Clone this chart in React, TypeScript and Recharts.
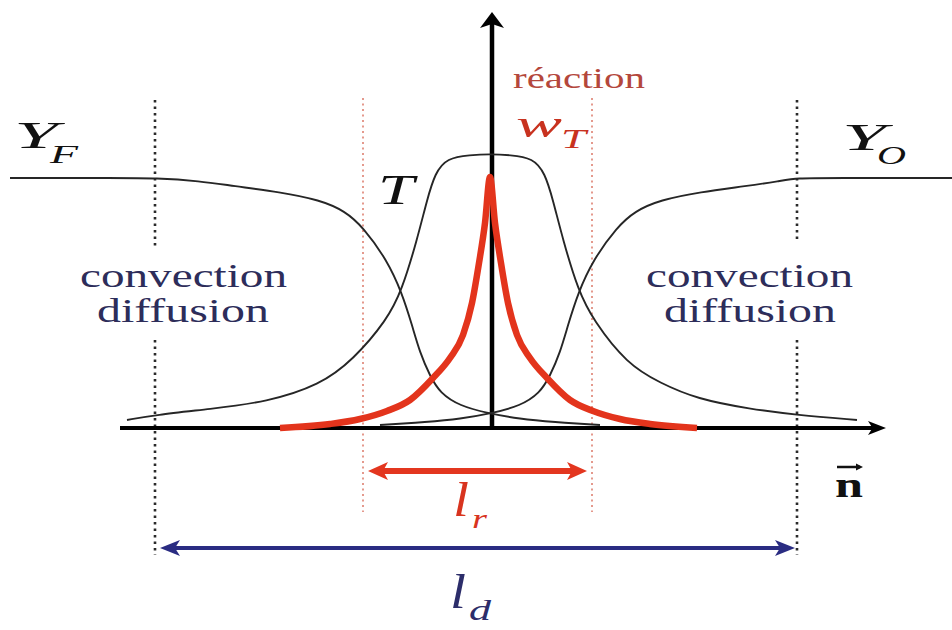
import React from 'react';
import { LineChart, Line, XAxis, YAxis, ReferenceLine, ReferenceDot } from 'recharts';

const W = 952;
const H = 630;
// screen row of the n axis; heights are measured upward from it
const AXIS_ROW = 428;
const h = (row: number) => AXIS_ROW - row;

// fuel mass fraction Y_F (left plateau, falls through the flame)
const FUEL_N = [10, 120, 155, 200, 233, 280, 320, 345, 363, 387, 402, 412, 420, 430, 440, 460, 487, 520, 553, 600];
const FUEL_Y = [250, 250, 250, 247, 242, 236, 228, 217, 201, 168, 135, 103, 75, 52, 35, 22, 15, 9, 6, 3];

// oxidiser mass fraction Y_O (rises to the right plateau)
const OXID_N = [380, 427, 460, 493, 520, 540, 550, 560, 568, 578, 593, 617, 635, 660, 700, 747, 780, 797, 830, 952];
const OXID_Y = [3, 6, 9, 15, 22, 35, 52, 75, 103, 135, 168, 201, 217, 228, 236, 242, 247, 250, 250, 250];

// temperature T
const TEMP_N = [127, 155, 210, 267, 320, 353, 387, 402, 417, 427, 435, 447, 470, 490, 510, 533, 545, 553, 563, 578, 593, 627, 660, 697, 750, 797, 857];
const TEMP_Y = [8, 13, 19, 26, 43, 68, 108, 138, 188, 228, 255, 270, 273, 274, 273, 270, 255, 228, 188, 138, 108, 64, 45, 29, 19, 13, 8];

// reaction rate w_T
const RATE_N = [280, 330, 360, 387, 410, 433, 450, 463, 472, 479, 485, 490, 495, 501, 508, 517, 530, 547, 570, 593, 620, 650, 697];
const RATE_Y = [0, 4, 9, 17, 28, 50, 70, 93, 125, 165, 205, 251, 205, 165, 125, 93, 70, 50, 28, 17, 9, 4, 0];

const toPoints = (ns: number[], ys: number[]) => ns.map((n, i) => ({ n, v: ys[i] }));

const fuel = toPoints(FUEL_N, FUEL_Y);
const oxid = toPoints(OXID_N, OXID_Y);
const temp = toPoints(TEMP_N, TEMP_Y);
const rate = toPoints(RATE_N, RATE_Y);

const SERIF = '"Liberation Serif", "Times New Roman", Times, serif';

// straight segment with a filled head at the end (and optionally at the start)
function arrow(color: string, width: number, head: number, half: number, both: boolean) {
  return (p: any) => {
    const { x1, y1, x2, y2 } = p;
    const len = Math.hypot(x2 - x1, y2 - y1) || 1;
    const ux = (x2 - x1) / len;
    const uy = (y2 - y1) / len;
    const px = -uy;
    const py = ux;
    const tri = (tx: number, ty: number, dx: number, dy: number) =>
      `${tx},${ty} ${tx - dx * head + px * half},${ty - dy * head + py * half} ${tx - dx * head * 0.75},${ty - dy * head * 0.75} ${tx - dx * head - px * half},${ty - dy * head - py * half}`;
    const sx = both ? x1 + ux * head * 0.7 : x1;
    const sy = both ? y1 + uy * head * 0.7 : y1;
    return (
      <g>
        <line
          x1={sx}
          y1={sy}
          x2={x2 - ux * head * 0.7}
          y2={y2 - uy * head * 0.7}
          stroke={color}
          strokeWidth={width}
        />
        <polygon points={tri(x2, y2, ux, uy)} fill={color} />
        {both && <polygon points={tri(x1, y1, -ux, -uy)} fill={color} />}
      </g>
    );
  };
}

type WordOpts = {
  text: string;
  size: number;
  width: number;
  color: string;
  italic?: boolean;
  bold?: boolean;
  sub?: string;
  subSize?: number;
  subWidth?: number;
  subDx?: number;
  subDy?: number;
};

// text anchored at its left baseline, stretched to the given width
function word(o: WordOpts) {
  return (p: any) => (
    <g>
      <text
        x={p.cx}
        y={p.cy}
        fontFamily={SERIF}
        fontSize={o.size}
        fontStyle={o.italic ? 'italic' : 'normal'}
        fontWeight={o.bold ? 'bold' : 'normal'}
        fill={o.color}
        textLength={o.width}
        lengthAdjust="spacingAndGlyphs"
      >
        {o.text}
      </text>
      {o.sub && (
        <text
          x={p.cx + (o.subDx ?? o.width)}
          y={p.cy + (o.subDy ?? 10)}
          fontFamily={SERIF}
          fontSize={o.subSize}
          fontStyle="italic"
          fill={o.color}
          textLength={o.subWidth}
          lengthAdjust="spacingAndGlyphs"
        >
          {o.sub}
        </text>
      )}
    </g>
  );
}

// bold n with a small arrow bar above it
function normalVector(p: any) {
  return (
    <g>
      <text
        x={p.cx}
        y={p.cy}
        fontFamily={SERIF}
        fontSize={36}
        fontWeight="bold"
        fill="#111"
        textLength={28}
        lengthAdjust="spacingAndGlyphs"
      >
        n
      </text>
      <line x1={p.cx + 2} y1={p.cy - 30} x2={p.cx + 25} y2={p.cy - 30} stroke="#111" strokeWidth={2.5} />
      <polygon points={`${p.cx + 28},${p.cy - 30} ${p.cx + 21},${p.cy - 33.5} ${p.cx + 21},${p.cy - 26.5}`} fill="#111" />
    </g>
  );
}

const BLACK_DOT = { stroke: '#2a2a2a', strokeWidth: 2.6, strokeDasharray: '2.5 4' };
const RED_DOT = { stroke: '#e0887a', strokeWidth: 1.7, strokeDasharray: '2 3.5' };
const CONV = '#2d2d5a';
const CURVE = { stroke: '#262626', strokeWidth: 1.9, dot: false, activeDot: false, isAnimationActive: false } as const;

export default function App() {
  return (
    <div style={{ position: 'absolute', left: 0, top: 0, width: W, height: H, background: '#fff' }}>
      <LineChart width={W} height={H} margin={{ top: 0, right: 0, bottom: 0, left: 0 }}>
        <XAxis type="number" dataKey="n" domain={[0, W]} allowDataOverflow hide />
        <YAxis type="number" dataKey="v" domain={[AXIS_ROW - H, AXIS_ROW]} allowDataOverflow hide />

        {/* diffusion-zone limits */}
        <ReferenceLine segment={[{ x: 155, y: h(100) }, { x: 155, y: h(247) }]} {...BLACK_DOT} />
        <ReferenceLine segment={[{ x: 155, y: h(340) }, { x: 155, y: h(555) }]} {...BLACK_DOT} />
        <ReferenceLine segment={[{ x: 797, y: h(100) }, { x: 797, y: h(242) }]} {...BLACK_DOT} />
        <ReferenceLine segment={[{ x: 797, y: h(340) }, { x: 797, y: h(555) }]} {...BLACK_DOT} />

        {/* reaction-zone limits */}
        <ReferenceLine segment={[{ x: 363, y: h(98) }, { x: 363, y: h(512) }]} {...RED_DOT} />
        <ReferenceLine segment={[{ x: 592, y: h(98) }, { x: 592, y: h(512) }]} {...RED_DOT} />

        {/* axes */}
        <ReferenceLine
          segment={[{ x: 120, y: 0 }, { x: 886, y: 0 }]}
          shape={arrow('#000', 4, 18, 7, false)}
        />
        <ReferenceLine
          segment={[{ x: 492, y: 0 }, { x: 492, y: h(12) }]}
          shape={arrow('#000', 4.5, 16, 12, false)}
        />

        {/* zone widths */}
        <ReferenceLine
          segment={[{ x: 368, y: h(471) }, { x: 587, y: h(471) }]}
          shape={arrow('#e3361f', 6, 20, 9, true)}
        />
        <ReferenceLine
          segment={[{ x: 160, y: h(548) }, { x: 795, y: h(548) }]}
          shape={arrow('#2a2c82', 4, 20, 8, true)}
        />

        <Line data={fuel} dataKey="v" type="basis" {...CURVE} />
        <Line data={oxid} dataKey="v" type="basis" {...CURVE} />
        <Line data={temp} dataKey="v" type="basis" {...CURVE} />
        <Line data={rate} dataKey="v" type="monotone" stroke="#e3341c" strokeWidth={6.5} dot={false} activeDot={false} isAnimationActive={false} />

        {/* labels */}
        <ReferenceDot x={513} y={h(88)} r={0} shape={word({ text: 'réaction', size: 29, width: 132, color: '#b4473c' })} />
        <ReferenceDot
          x={516}
          y={h(137)}
          r={0}
          shape={word({ text: 'w', size: 38, width: 46, color: '#c8321f', italic: true, sub: 'T', subSize: 27, subWidth: 25, subDx: 45, subDy: 11 })}
        />
        <ReferenceDot
          x={14}
          y={h(148)}
          r={0}
          shape={word({ text: 'Y', size: 38, width: 44, color: '#111', italic: true, sub: 'F', subSize: 26, subWidth: 28, subDx: 36, subDy: 15 })}
        />
        <ReferenceDot
          x={842}
          y={h(150)}
          r={0}
          shape={word({ text: 'Y', size: 38, width: 44, color: '#111', italic: true, sub: 'O', subSize: 26, subWidth: 29, subDx: 35, subDy: 14 })}
        />
        <ReferenceDot x={378} y={h(204)} r={0} shape={word({ text: 'T', size: 42, width: 36, color: '#111', italic: true })} />

        <ReferenceDot x={80} y={h(287)} r={0} shape={word({ text: 'convection', size: 34, width: 207, color: CONV })} />
        <ReferenceDot x={97} y={h(322)} r={0} shape={word({ text: 'diffusion', size: 34, width: 172, color: CONV })} />
        <ReferenceDot x={646} y={h(287)} r={0} shape={word({ text: 'convection', size: 34, width: 207, color: CONV })} />
        <ReferenceDot x={664} y={h(322)} r={0} shape={word({ text: 'diffusion', size: 34, width: 172, color: CONV })} />

        <ReferenceDot
          x={453}
          y={h(516)}
          r={0}
          shape={word({ text: 'l', size: 48, width: 16, color: '#d8341f', italic: true, sub: 'r', subSize: 28, subWidth: 15, subDx: 19, subDy: 12 })}
        />
        <ReferenceDot
          x={450}
          y={h(608)}
          r={0}
          shape={word({ text: 'l', size: 48, width: 16, color: '#2c2d6a', italic: true, sub: 'd', subSize: 30, subWidth: 22, subDx: 19, subDy: 12 })}
        />
        <ReferenceDot x={835} y={h(497)} r={0} shape={normalVector} />
      </LineChart>
    </div>
  );
}
